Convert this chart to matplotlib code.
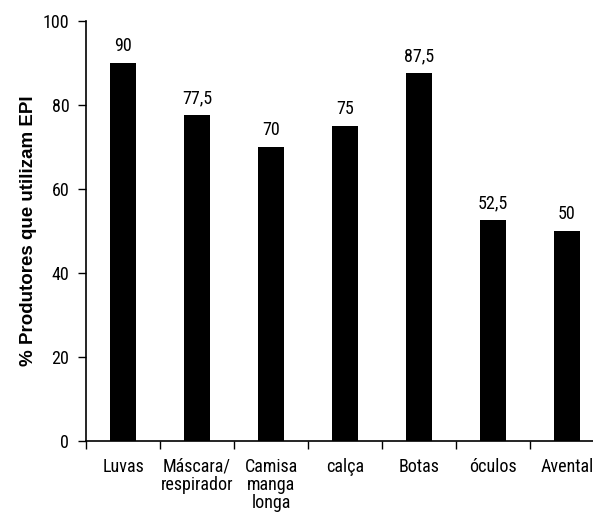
import matplotlib
matplotlib.use("Agg")
import matplotlib.pyplot as plt
import numpy as np

# dados do gráfico
categorias = ["Luvas", "Máscara/\nrespirador", "Camisa\nmanga\nlonga", "calça",
              "Botas", "óculos", "Avental"]
valores = [90, 77.5, 70, 75, 87.5, 52.5, 50]
rotulos = ["90", "77,5", "70", "75", "87,5", "52,5", "50"]
yticks = [0, 20, 40, 60, 80, 100]

# fonte estreita parecida com Arial Narrow
plt.rcParams["font.family"] = ["Roboto Condensed", "Liberation Sans", "DejaVu Sans"]

W, H = 593, 519
fig = plt.figure(figsize=(W / 100, H / 100), dpi=100)
# eixo passa da borda direita, como na figura original
ax = fig.add_axes([86 / W, 78 / H, 518 / W, 420 / H])

x = np.arange(len(categorias))
ax.bar(x, valores, width=0.34, color="black")

for xi, v, r in zip(x, valores, rotulos):
    ax.annotate(r, (xi, v), xytext=(0, 6), textcoords="offset points",
                ha="center", va="bottom", fontsize=13)

ax.set_xlim(-0.5, len(categorias) - 0.5)
ax.set_ylim(0, 100)
ax.set_yticks(yticks)
ax.set_yticklabels([str(t) for t in yticks], fontsize=13)

# ticks do eixo x entre as categorias
ax.set_xticks(np.arange(len(categorias) + 1) - 0.5)
ax.set_xticklabels([])
ax.set_xticks(x, minor=True)
ax.set_xticklabels(categorias, minor=True, fontsize=13, linespacing=1.0)
ax.tick_params(axis="x", which="minor", length=0, pad=12)
ax.tick_params(axis="x", which="major", length=6, direction="out", width=1)
ax.tick_params(axis="y", length=6, direction="out", width=1, pad=6)

for s in ["top", "right"]:
    ax.spines[s].set_visible(False)
for s in ["left", "bottom"]:
    ax.spines[s].set_linewidth(1.2)

ax.set_ylabel("% Produtores que utilizam EPI", fontsize=13.5, fontweight="bold",
              family=["Liberation Sans", "DejaVu Sans"], labelpad=4)

fig.savefig("out.png", dpi=100)
